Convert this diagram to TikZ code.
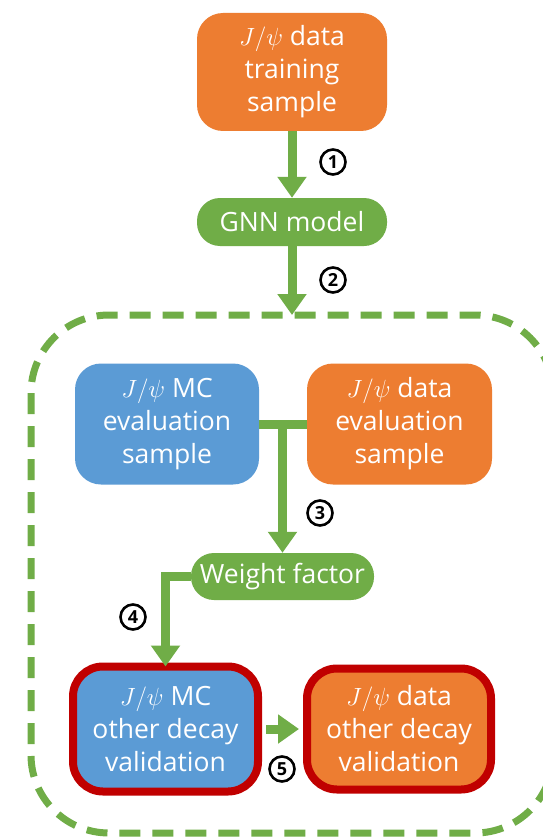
\documentclass[tikz,border=0pt]{standalone}
\usepackage{fontspec}
\setmainfont{Open Sans}
\usetikzlibrary{arrows.meta}
\definecolor{gorange}{HTML}{ED7D31}
\definecolor{gblue}{HTML}{5B9BD5}
\definecolor{ggreen}{HTML}{70AD47}
\definecolor{gred}{HTML}{C00000}
\tikzset{
  box/.style={rectangle, rounded corners=26pt, text=white, align=center,
    font=\fontsize{26.5}{33}\selectfont, inner sep=0pt},
  obox/.style={box, fill=gorange},
  bbox/.style={box, fill=gblue},
  gbox/.style={box, fill=ggreen, rounded corners=23pt},
  rbox/.style={draw=gred, line width=8pt},
  arr/.style={draw=ggreen, line width=9pt, -{Triangle[length=21pt,width=28pt]}},
  conn/.style={draw=ggreen, line width=9pt},
  num/.style={circle, draw=black, line width=2.6pt, minimum size=25pt, inner sep=0pt,
    font=\fontsize{18}{18}\selectfont\bfseries},
  frame/.style={draw=ggreen, line width=7pt, dash pattern=on 21pt off 12pt, rounded corners=78pt}
}
\begin{document}
\begin{tikzpicture}[x=1pt,y=-1pt]
\useasboundingbox (0,0) rectangle (542,840);
\fill[white] (0,0) rectangle (542,840);
% dashed frame
\draw[frame] (31,315) rectangle (553,833);
\coordinate (frametop) at (292,315);
% nodes
\node[obox, minimum width=190pt, minimum height=118pt] (train) at (292,72) {$J/\psi$ data\\training\\sample};
\node[gbox, minimum width=190pt, minimum height=48pt] (gnn) at (292,222) {GNN model};
\node[bbox, minimum width=184pt, minimum height=121pt] (mceval) at (167,424) {$J/\psi$ MC\\evaluation\\sample};
\node[obox, minimum width=185pt, minimum height=121pt] (dataeval) at (399.5,424) {$J/\psi$ data\\evaluation\\sample};
\node[gbox, minimum width=183pt, minimum height=47pt] (weight) at (282.5,576.5) {Weight factor};
\node[bbox, rbox, minimum width=185pt, minimum height=125pt, rounded corners=30pt] (mcother) at (165.5,729) {$J/\psi$ MC\\other decay\\validation};
\node[obox, rbox, minimum width=184pt, minimum height=121pt, rounded corners=30pt] (dataother) at (399,729) {$J/\psi$ data\\other decay\\validation};
% connectors
\draw[arr] (train.south) -- (gnn.north);
\draw[arr] (gnn.south) -- (frametop);
\draw[conn] (mceval.east) -- (dataeval.west);
\draw[arr] (mceval.east -| weight.north) -- (weight.north);
\draw[arr] (weight.west) -| ([yshift=-4pt]mcother.north);
\draw[arr] ([xshift=4pt]mcother.east) -- ([xshift=-4pt]dataother.west);
% step numbers
\node[num] (n1) at (333,162) {1};
\node[num] (n2) at (333,280) {2};
\node[num] (n3) at (320,513) {3};
\node[num] (n4) at (133,617) {4};
\node[num] (n5) at (282,769) {5};
\end{tikzpicture}
\end{document}
